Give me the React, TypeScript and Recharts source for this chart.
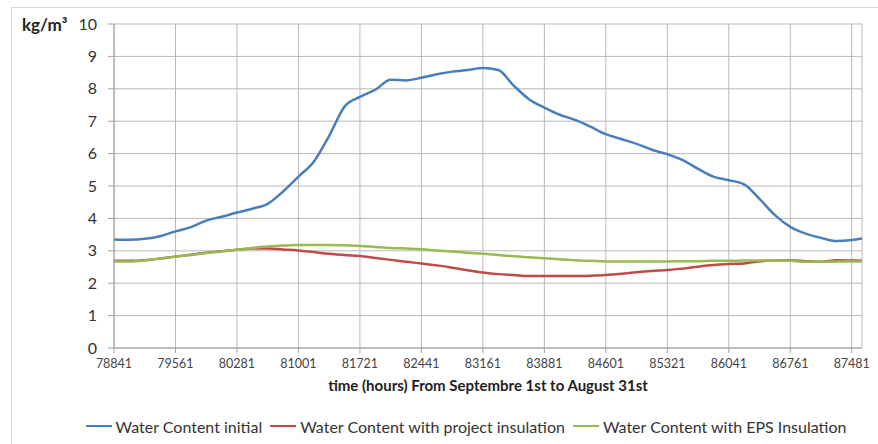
import React from "react";
import { LineChart, Line, XAxis, YAxis, CartesianGrid, Legend } from "recharts";

const hours = [
  78841, 79021, 79201, 79381, 79561, 79741, 79921, 80101, 80281, 80461,
  80641, 80821, 81001, 81181, 81361, 81541, 81721, 81901, 82081, 82261,
  82441, 82621, 82801, 82981, 83161, 83341, 83521, 83701, 83881, 84061,
  84241, 84421, 84601, 84781, 84961, 85141, 85321, 85501, 85681, 85861,
  86041, 86221, 86401, 86581, 86761, 86941, 87121, 87301, 87481, 87601,
];

const waterInitial = [
  3.35, 3.34, 3.37, 3.45, 3.6, 3.73, 3.93, 4.05, 4.18, 4.3,
  4.45, 4.83, 5.29, 5.75, 6.55, 7.45, 7.75, 7.97, 8.28, 8.26,
  8.34, 8.45, 8.53, 8.58, 8.64, 8.58, 8.1, 7.68, 7.42, 7.2,
  7.04, 6.83, 6.6, 6.45, 6.3, 6.12, 5.98, 5.8, 5.53, 5.29,
  5.18, 5.05, 4.6, 4.1, 3.74, 3.53, 3.4, 3.3, 3.33, 3.38,
];

const waterProject = [
  2.69, 2.69, 2.71, 2.76, 2.82, 2.88, 2.94, 2.99, 3.03, 3.07,
  3.07, 3.04, 3.01, 2.96, 2.91, 2.87, 2.84, 2.78, 2.72, 2.66,
  2.61, 2.55, 2.48, 2.4, 2.33, 2.28, 2.25, 2.22, 2.22, 2.22,
  2.22, 2.23, 2.25, 2.29, 2.34, 2.38, 2.41, 2.45, 2.51, 2.56,
  2.59, 2.61, 2.68, 2.7, 2.71, 2.68, 2.66, 2.71, 2.7, 2.69,
];

const waterEPS = [
  2.67, 2.67, 2.7, 2.76, 2.82, 2.87, 2.93, 2.98, 3.03, 3.09,
  3.13, 3.16, 3.18, 3.18, 3.18, 3.17, 3.15, 3.12, 3.09, 3.07,
  3.05, 3.01, 2.98, 2.94, 2.91, 2.87, 2.83, 2.8, 2.77, 2.74,
  2.71, 2.69, 2.67, 2.67, 2.67, 2.67, 2.67, 2.68, 2.68, 2.69,
  2.69, 2.7, 2.7, 2.7, 2.69, 2.66, 2.66, 2.67, 2.67, 2.67,
];

const xTicks = [
  78841, 79561, 80281, 81001, 81721, 82441, 83161, 83881, 84601, 85321,
  86041, 86761, 87481,
];
const yTicks = [0, 1, 2, 3, 4, 5, 6, 7, 8, 9, 10];

const seriesKeys = ["initial", "project", "eps"];
const seriesNames = [
  "Water Content initial",
  "Water Content with project insulation",
  "Water Content with EPS Insulation",
];
const seriesColors = ["#4a7ebb", "#be4b48", "#98b954"];

const data = hours.map((h, i) => ({
  h,
  initial: waterInitial[i],
  project: waterProject[i],
  eps: waterEPS[i],
}));

const FONT = "Lato, 'Open Sans', sans-serif";

const renderLegend = () => {
  return (
    <div
      style={{
        display: "flex",
        justifyContent: "center",
        alignItems: "center",
        fontFamily: FONT,
        fontSize: 16,
        color: "#333",
        height: 36,
        paddingLeft: 78,
      }}
    >
      {seriesNames.map((name, i) => (
        <div key={i} style={{ display: "flex", alignItems: "center", marginRight: 8 }}>
          <span
            style={{
              display: "inline-block",
              width: 26,
              height: 2.5,
              background: seriesColors[i],
              marginRight: 4,
            }}
          />
          <span>{name}</span>
        </div>
      ))}
    </div>
  );
};

export default function App() {
  return (
    <div style={{ position: "absolute", left: 0, top: 0, width: 878, height: 444, background: "#fff", overflow: "hidden" }}>
      <div
        style={{
          position: "absolute",
          left: 11,
          top: 7,
          width: 870,
          height: 444,
          border: "1px solid #d9d9d9",
          boxSizing: "border-box",
        }}
      />
      <div style={{ position: "absolute", left: 0, top: 0 }}>
        <LineChart
          width={878}
          height={444}
          data={data}
          margin={{ top: 24, right: 16, left: 0, bottom: 0 }}
        >
          <CartesianGrid stroke="#b8b8b8" strokeWidth={1} horizontal vertical />
          <XAxis
            dataKey="h"
            type="number"
            domain={[78841, 87601]}
            ticks={xTicks}
            interval={0}
            height={60}
            stroke="#a0a0a0"
            tickSize={5}
            tickMargin={6}
            tick={{ fill: "#444", fontSize: 12.5, fontFamily: FONT }}
            label={{
              content: (p: any) => {
                const vb = p.viewBox;
                return (
                  <text
                    x={vb.x + vb.width / 2}
                    y={vb.y + 43}
                    textAnchor="middle"
                    fontFamily={FONT}
                    fontWeight="bold"
                    fontSize={15}
                    fill="#222"
                  >
                    time (hours)  From Septembre 1st to August 31st
                  </text>
                );
              },
            }}
          />
          <YAxis
            type="number"
            domain={[0, 10]}
            ticks={yTicks}
            interval={0}
            width={114}
            stroke="#a0a0a0"
            tickSize={6}
            tickMargin={11}
            tick={{ fill: "#333", fontSize: 16, fontFamily: FONT }}
            label={{
              content: (p: any) => {
                const vb = p.viewBox;
                return (
                  <text
                    x={vb.x + 22}
                    y={vb.y + 7}
                    textAnchor="start"
                    fontFamily={FONT}
                    fontWeight="bold"
                    fontSize={17}
                    fill="#222"
                  >
                    kg/m³
                  </text>
                );
              },
            }}
          />
          <Legend verticalAlign="bottom" height={36} content={renderLegend} />
          {seriesKeys.map((k, i) => (
            <Line
              key={k}
              type="monotone"
              dataKey={k}
              name={seriesNames[i]}
              stroke={seriesColors[i]}
              strokeWidth={2.5}
              dot={false}
              isAnimationActive={false}
            />
          ))}
        </LineChart>
      </div>
    </div>
  );
}
